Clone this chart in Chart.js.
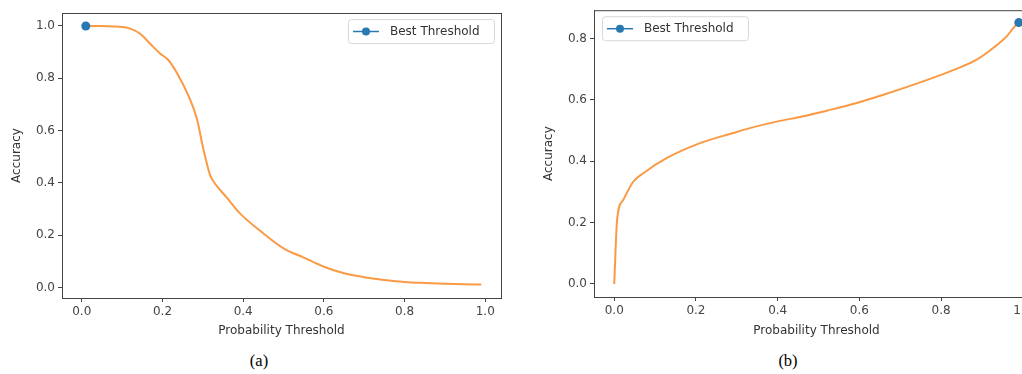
<!DOCTYPE html>
<html>
<head>
<meta charset="utf-8">
<script src="https://cdn.jsdelivr.net/npm/chart.js@4.4.0/dist/chart.umd.min.js"></script>
<style>
  html, body { margin: 0; padding: 0; background: #fff; }
  body { width: 1022px; height: 374px; overflow: hidden; position: relative; }
  canvas { position: absolute; top: 0; }
  #graficoA { left: 0; }
  #graficoB { left: 532px; }
  .rotulo { position: absolute; top: 352px; font-family: "Liberation Serif", serif; font-size: 16.5px; line-height: 18px; color: #000; transform: translateX(-50%); }
</style>
</head>
<body>
<canvas id="graficoA" width="506" height="345"></canvas>
<canvas id="graficoB" width="512" height="345"></canvas>
<div class="rotulo" style="left:259px">(a)</div>
<div class="rotulo" style="left:788px">(b)</div>
<script>
// dados (a)
const limiarA = [0.01, 0.045, 0.08, 0.10, 0.12, 0.144, 0.169, 0.194, 0.215, 0.239, 0.264, 0.285, 0.301, 0.318, 0.33, 0.36, 0.392, 0.44, 0.50, 0.55, 0.60, 0.65, 0.70, 0.75, 0.80, 0.85, 0.90, 0.95, 0.99];
const acuraciaA = [1.0, 1.0, 0.998, 0.996, 0.99, 0.971, 0.933, 0.895, 0.869, 0.812, 0.735, 0.647, 0.532, 0.43, 0.398, 0.343, 0.284, 0.22, 0.15, 0.115, 0.08, 0.055, 0.04, 0.029, 0.022, 0.018, 0.015, 0.013, 0.012];
const melhorA = { x: 0.01, y: 1.0 };

// dados (b)
const limiarB = [0.0, 0.007, 0.022, 0.047, 0.071, 0.128, 0.21, 0.291, 0.332, 0.40, 0.46, 0.52, 0.577, 0.659, 0.74, 0.822, 0.887, 0.928, 0.961, 0.977, 0.99];
const acuraciaB = [0.0, 0.209, 0.274, 0.334, 0.361, 0.41, 0.459, 0.492, 0.508, 0.53, 0.546, 0.565, 0.584, 0.617, 0.653, 0.693, 0.731, 0.77, 0.808, 0.835, 0.852];
const melhorB = { x: 0.99, y: 0.852 };

// ticks
const ticksX = [0.0, 0.2, 0.4, 0.6, 0.8, 1.0];
const ticksYA = [0.0, 0.2, 0.4, 0.6, 0.8, 1.0];
const ticksYB = [0.0, 0.2, 0.4, 0.6, 0.8];

const corLaranja = '#fa9a45';
const corAzul = '#2a78b2';
const corEixo = '#444';
const fonte = { family: '"DejaVu Sans", sans-serif', size: 12 };

// moldura em volta da área do gráfico + legenda estilo matplotlib
const molduraPlugin = {
  id: 'moldura',
  afterDraw(chart, args, opts) {
    const { ctx, chartArea: a } = chart;
    ctx.save();
    ctx.strokeStyle = corEixo;
    ctx.lineWidth = 1;
    ctx.strokeRect(a.left + 0.5, a.top + 0.5, a.right - a.left, a.bottom - a.top);

    // legenda
    const ds = chart.data.datasets[1];
    const w = 146, h = 24;
    const bx = opts.lado === 'direita' ? a.right - 7 - w : a.left + 8;
    const by = a.top + 6;
    ctx.fillStyle = 'rgba(255,255,255,0.85)';
    ctx.strokeStyle = '#d8d8d8';
    ctx.beginPath();
    ctx.roundRect(bx + 0.5, by + 0.5, w, h, 3);
    ctx.fill();
    ctx.stroke();
    const cy = by + h / 2 + 0.5;
    ctx.strokeStyle = corAzul;
    ctx.lineWidth = 1.5;
    ctx.beginPath();
    ctx.moveTo(bx + 5, cy);
    ctx.lineTo(bx + 31, cy);
    ctx.stroke();
    ctx.fillStyle = corAzul;
    ctx.beginPath();
    ctx.arc(bx + 18, cy, 4, 0, Math.PI * 2);
    ctx.fill();
    ctx.fillStyle = '#333';
    ctx.font = '12px "DejaVu Sans", sans-serif';
    ctx.textBaseline = 'middle';
    ctx.fillText(ds.label, bx + 42, cy);
    ctx.restore();
  }
};

function montarGrafico(canvasId, xs, ys, melhor, cfg) {
  const pontos = xs.map((x, i) => ({ x: x, y: ys[i] }));
  return new Chart(document.getElementById(canvasId), {
    type: 'line',
    data: {
      datasets: [
        {
          label: 'curva',
          data: pontos,
          borderColor: corLaranja,
          borderWidth: 2,
          pointRadius: 0,
          cubicInterpolationMode: 'monotone',
          fill: false,
          order: 2
        },
        {
          label: 'Best Threshold',
          data: [melhor],
          borderColor: corAzul,
          backgroundColor: corAzul,
          pointRadius: 4.5,
          pointBorderWidth: 0,
          showLine: false,
          order: 1
        }
      ]
    },
    options: {
      responsive: false,
      animation: false,
      layout: { padding: { top: cfg.topo, right: cfg.direita, left: 0, bottom: 0 } },
      plugins: {
        legend: { display: false },
        tooltip: { enabled: false },
        moldura: { lado: cfg.legenda }
      },
      scales: {
        x: {
          type: 'linear',
          min: cfg.xMin,
          max: cfg.xMax,
          afterBuildTicks: s => { s.ticks = ticksX.map(v => ({ value: v })); },
          afterFit: s => { s.height = cfg.alturaX; },
          ticks: { color: corEixo, font: fonte, padding: 3, maxRotation: 0, callback: v => v.toFixed(1) },
          grid: { drawOnChartArea: false, drawTicks: true, tickLength: 4, color: corEixo },
          border: { display: true, color: corEixo },
          title: { display: true, text: 'Probability Threshold', color: '#333', font: fonte, padding: { top: 0, bottom: 7 } }
        },
        y: {
          type: 'linear',
          min: cfg.yMin,
          max: cfg.yMax,
          afterBuildTicks: s => { s.ticks = cfg.ticksY.map(v => ({ value: v })); },
          afterFit: s => { s.width = cfg.larguraY; },
          ticks: { color: corEixo, font: fonte, padding: 3, callback: v => v.toFixed(1) },
          grid: { drawOnChartArea: false, drawTicks: true, tickLength: 4, color: corEixo },
          border: { display: true, color: corEixo },
          title: { display: true, text: 'Accuracy', color: '#333', font: fonte, padding: { top: 10, bottom: 0 } }
        }
      }
    },
    plugins: [molduraPlugin]
  });
}

montarGrafico('graficoA', limiarA, acuraciaA, melhorA, {
  topo: 13, direita: 5, alturaX: 47, larguraY: 62,
  xMin: -0.049, xMax: 1.039, yMin: -0.0395, yMax: 1.0495,
  ticksY: ticksYA, legenda: 'direita'
});

montarGrafico('graficoB', limiarB, acuraciaB, melhorB, {
  topo: 10, direita: 5, alturaX: 48, larguraY: 62,
  xMin: -0.0495, xMax: 1.0395, yMin: -0.0425, yMax: 0.8925,
  ticksY: ticksYB, legenda: 'esquerda'
});
</script>
</body>
</html>
